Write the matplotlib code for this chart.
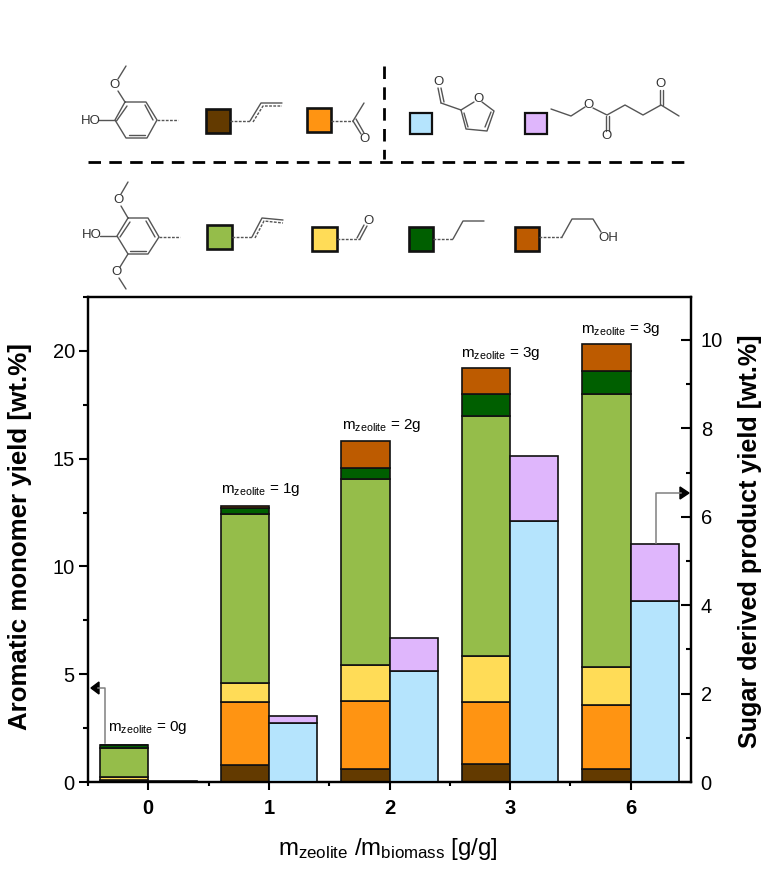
import matplotlib
matplotlib.use("Agg")
import numpy as np
import matplotlib.pyplot as plt
from matplotlib.patches import Polygon, Rectangle

plt.rcParams['font.family'] = ['Liberation Sans', 'DejaVu Sans']
plt.rcParams['mathtext.default'] = 'regular'

categories = ['0', '1', '2', '3', '6']

# aromatic monomers, wt.% (left axis)
g_propenyl = [0.07, 0.80, 0.60, 0.85, 0.60]
g_acetyl = [0.00, 2.90, 3.15, 2.85, 2.95]
s_aldehyde = [0.18, 0.90, 1.70, 2.15, 1.80]
s_propenyl = [1.35, 7.85, 8.62, 11.15, 12.65]
s_propyl = [0.10, 0.25, 0.48, 1.00, 1.05]
s_propanol = [0.00, 0.10, 1.25, 1.20, 1.25]

# sugar derived products, wt.% (right axis)
furfural = [0.01, 1.33, 2.50, 5.90, 4.10]
ethyl_levulinate = [0.01, 0.17, 0.75, 1.47, 1.28]

left_series = [g_propenyl, g_acetyl, s_aldehyde, s_propenyl, s_propyl, s_propanol]
left_colors = ['#633a00', '#ff9412', '#ffdc57', '#95bd4a', '#005f00', '#bd5b00']
right_series = [furfural, ethyl_levulinate]
right_colors = ['#b5e4fd', '#dfb6fc']

zeolite_labels = ['0g', '1g', '2g', '3g', '3g']
zeolite_pos = [(108, 727), (221, 490), (342, 426), (461, 353), (581, 330)]

W, H = 772, 875
fig = plt.figure(figsize=(W / 100, H / 100), dpi=100)

ax = fig.add_axes([88 / W, (H - 782) / H, 603 / W, 485 / H])
ax2 = ax.twinx()
x = np.arange(len(categories))
bar_w = 0.4

bottom = np.zeros(len(categories))
for vals, col in zip(left_series, left_colors):
    ax.bar(x - bar_w / 2, vals, bar_w, bottom=bottom, color=col, edgecolor='#111111', linewidth=1.2)
    bottom += np.array(vals)

bottom = np.zeros(len(categories))
for vals, col in zip(right_series, right_colors):
    ax2.bar(x + bar_w / 2, vals, bar_w, bottom=bottom, color=col, edgecolor='#111111', linewidth=1.2)
    bottom += np.array(vals)

ax.set_xlim(-0.5, 4.5)
ax.set_ylim(0, 22.5)
ax2.set_ylim(0, 10.97)

ax.set_xticks(x, categories, fontweight='bold', fontsize=14.5)
ax.set_xticks(np.append(x[:-1] + 0.5, -0.5), minor=True)
ax.set_yticks([0, 5, 10, 15, 20])
ax.set_yticks([2.5, 7.5, 12.5, 17.5, 22.5], minor=True)
ax2.set_yticks([0, 2, 4, 6, 8, 10])
ax2.set_yticks([1, 3, 5, 7, 9], minor=True)

ax.tick_params(axis='x', which='major', length=6, width=1.5, pad=6)
ax.tick_params(axis='x', which='minor', length=3, width=1.5)
ax.tick_params(axis='y', which='major', length=6.5, width=1.5, labelsize=14.5, pad=3)
ax.tick_params(axis='y', which='minor', length=3.5, width=1.5)
ax2.tick_params(axis='y', which='major', direction='in', length=7, width=1.5, labelsize=14.5, pad=7)
ax2.tick_params(axis='y', which='minor', direction='in', length=3.5, width=1.5)

for a in (ax, ax2):
    for s in a.spines.values():
        s.set_linewidth(1.6)

# everything else sits on a pixel overlay
ov = fig.add_axes([0, 0, 1, 1], zorder=5)
ov.set_xlim(0, W)
ov.set_ylim(H, 0)
ov.axis('off')

fig.text(20 / W, 1 - 537 / H, 'Aromatic monomer yield [wt.%]', rotation=90, fontweight='bold',
         fontsize=18.6, ha='center', va='center')
fig.text(750 / W, 1 - 541 / H, 'Sugar derived product yield [wt.%]', rotation=90, fontweight='bold',
         fontsize=18.1, ha='center', va='center')
ov.text(388, 849, r'm$_{zeolite}$ /m$_{biomass}$ [g/g]', fontsize=17.3, ha='center', va='center')

for lab, (px, py) in zip(zeolite_labels, zeolite_pos):
    ov.text(px, py, r'm$_{zeolite}$ = ' + lab, fontsize=11, ha='left', va='center')

GREY = '#808080'
ov.plot([105, 105, 98], [743, 688, 688], color=GREY, lw=1.1)
ov.add_patch(Polygon([(91, 688), (99, 682), (99, 694)], color='black'))
ov.plot([656, 656, 681], [543, 493, 493], color=GREY, lw=1.1)
ov.add_patch(Polygon([(689, 493), (680, 487), (680, 499)], color='black'))

# section dividers above the chart
ov.plot([88, 688], [162, 162], color='black', lw=2, dashes=(4.5, 3))
ov.plot([384, 384], [66, 159], color='black', lw=2, dashes=(4.5, 3))

BOND = '#555555'


def bonds(*pts):
    xs, ys = zip(*pts)
    ov.plot(xs, ys, color=BOND, lw=1.0, solid_capstyle='round')


def dash(*pts):
    xs, ys = zip(*pts)
    ov.plot(xs, ys, color=BOND, lw=1.0, dashes=(2, 1))


def atom(px, py, s):
    ov.text(px, py, s, fontsize=9.5, color='#333333', ha='center', va='center')


def square(x0, y0, x1, y1, col, lw=1.9):
    ov.add_patch(Rectangle((x0, y0), x1 - x0, y1 - y0, facecolor=col, edgecolor='#111111', lw=lw))


# guaiacyl row
bonds((125, 102), (146, 102), (157, 120), (147, 138), (126, 138), (115, 120), (125, 102))
bonds((127, 106), (116.5, 121))
bonds((145, 105), (153, 120))
bonds((129, 135), (145, 135))
bonds((98, 120), (115, 120))
atom(91, 121, 'HO')
bonds((125, 102), (118, 91))
atom(115, 85, 'O')
bonds((118, 79), (126, 66))
dash((157, 120), (178, 120))

square(206, 109, 230, 133, left_colors[0])
dash((230, 121), (250, 121))
bonds((250, 121), (261, 103), (282, 103))
dash((253, 122), (263, 106), (282, 106))

square(307, 108, 331, 132, left_colors[1])
dash((331, 121), (353, 121))
bonds((353, 121), (364, 103))
bonds((353, 121), (361, 134))
bonds((356, 119), (364, 133))
atom(364, 139, 'O')

# sugar products
square(410, 113, 432, 134, right_colors[0], lw=1.6)
atom(439, 82, 'O')
bonds((438, 88), (441, 103))
bonds((441, 88), (444, 102))
bonds((441, 103), (461, 110))
bonds((461, 110), (474, 102))
bonds((482, 102), (494, 111), (487, 131), (466, 129), (461, 110))
bonds((491, 112), (485, 127))
bonds((464, 113), (468, 127))
atom(478, 99, 'O')

square(525, 113, 547, 134, right_colors[1], lw=1.6)
bonds((551, 109), (571, 116), (585, 107))
atom(589, 105, 'O')
bonds((593, 108), (607, 115), (625, 105), (643, 115), (661, 105), (679, 116))
bonds((606, 116), (606, 131))
bonds((609, 116), (609, 131))
atom(607, 136, 'O')
bonds((660, 105), (660, 90))
bonds((663, 105), (663, 90))
atom(661, 84, 'O')

# syringyl row
bonds((128, 218), (148, 218), (159, 237), (148, 254), (128, 254), (117, 236), (128, 218))
bonds((130, 222), (120, 237))
bonds((146, 221), (155, 237))
bonds((130, 251), (146, 251))
bonds((100, 236), (117, 236))
atom(92, 235, 'HO')
bonds((128, 218), (121, 206))
atom(118, 200, 'O')
bonds((121, 194), (128, 182))
bonds((128, 254), (120, 267))
atom(116, 272, 'O')
bonds((119, 278), (126, 289))
dash((159, 237), (180, 237))

square(207, 225, 232, 249, left_colors[3])
dash((232, 237), (252, 237))
bonds((252, 237), (262, 218), (283, 220))
dash((255, 238), (264, 221), (283, 223))

square(312, 227, 337, 251, left_colors[2])
dash((337, 239), (360, 239))
bonds((360, 239), (367, 226))
bonds((357, 238), (364, 225))
atom(369, 221, 'O')

square(409, 227, 433, 251, left_colors[4])
dash((433, 239), (453, 239))
bonds((453, 239), (463, 221), (484, 221))

square(515, 227, 539, 251, left_colors[5])
dash((539, 237), (562, 237))
bonds((562, 237), (572, 219), (593, 219), (601, 232))
atom(608, 238, 'OH')

fig.savefig('out.png', dpi=100)
